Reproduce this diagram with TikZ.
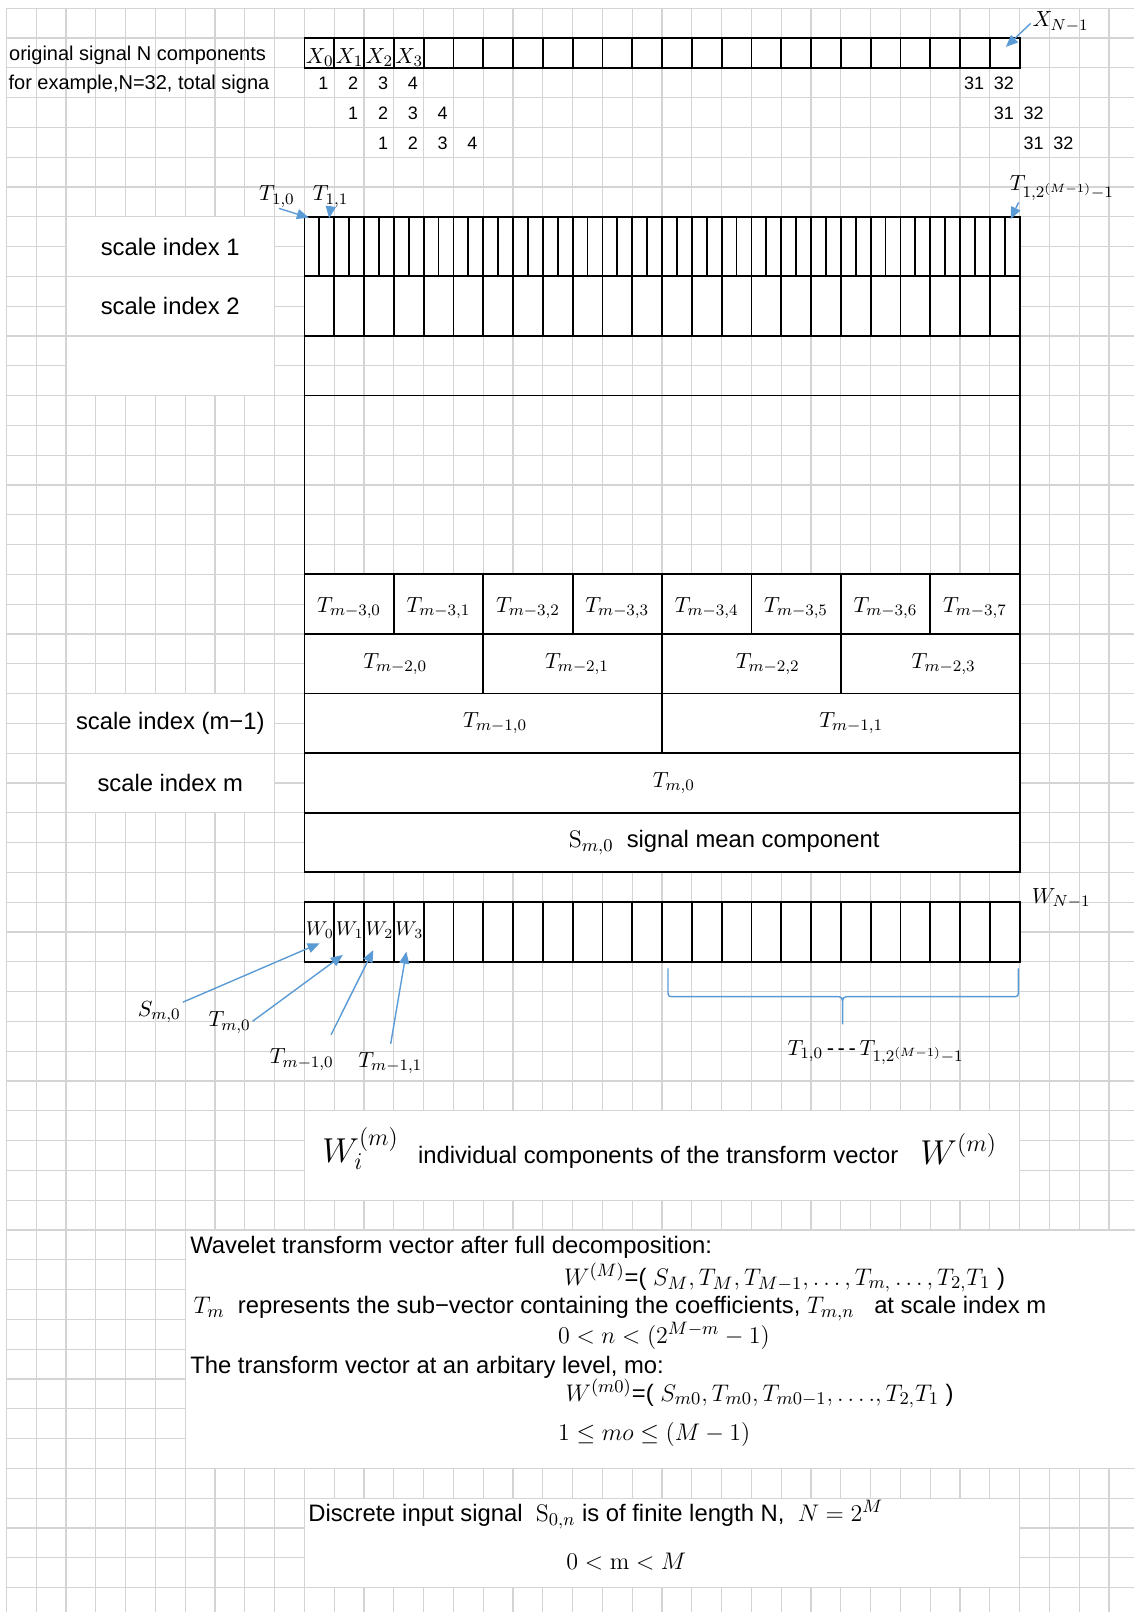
\documentclass[tikz,border=0pt]{standalone}
\usepackage[no-math]{fontspec}
\usepackage{tikz}
\usetikzlibrary{arrows.meta}
\newfontfamily\xlsfont{Liberation Sans}
\definecolor{gridgray}{RGB}{212,212,212}
\definecolor{callblue}{RGB}{91,155,213}
\DeclareMathSizes{10}{10}{7.5}{5.5}
\DeclareMathSizes{11}{11}{8.5}{6.5}
\DeclareMathSizes{11.9}{11.9}{9}{7}
\DeclareMathSizes{18}{18}{13}{10}
\def\FxL{10}
\def\FxR{34}
\def\FxE{37.84}
\def\FyE{53.82}
\tikzset{
  gridln/.style={draw=gridgray, line width=0.6pt},
  merged/.style={fill=white, draw=gridgray, line width=0.6pt},
  cellbox/.style={draw=black, line width=0.9pt},
  toplbl/.style={anchor=base west, inner sep=0pt, font=\xlsfont\fontsize{10}{12}\selectfont},
  numlbl/.style={anchor=base east, inner sep=0pt, font=\xlsfont\fontsize{9}{11}\selectfont},
  rowlbl/.style={inner sep=0pt, font=\xlsfont\fontsize{11.9}{14}\selectfont},
  note/.style={anchor=base west, inner sep=0pt, font=\xlsfont\fontsize{11.9}{14}\selectfont},
  idx/.style={inner sep=0pt, font=\fontsize{11}{13}\selectfont},
  wcell/.style={anchor=base west, inner sep=0pt, font=\fontsize{10}{12}\selectfont},
  bigw/.style={anchor=base west, inner sep=0pt, font=\fontsize{18}{21}\selectfont},
  callout/.style={draw=callblue, line width=0.7pt, shorten <=1pt, -{Triangle[length=6pt,width=5pt]}},
  brace/.style={draw=callblue, line width=0.7pt},
}
\begin{document}
\begin{tikzpicture}[x=14.9pt,y=-14.9pt]
  \useasboundingbox (-0.215,-0.275) rectangle (\FxE,\FyE);

  % sheet grid
  \foreach \c in {0,...,37} \draw[gridln] (\c,0) -- (\c,\FyE);
  \foreach \r in {0,...,53} \draw[gridln] (0,\r) -- (\FxE,\r);

  % merged cells
  \draw[merged] (2,7) rectangle (9,9);
  \draw[merged] (2,9) rectangle (9,11);
  \draw[merged] (2,11) rectangle (9,13);
  \draw[merged] (2,23) rectangle (9,25);
  \draw[merged] (2,25) rectangle (9,27);
  \draw[merged] (\FxL,37) rectangle (\FxR,40);
  \draw[merged] (6,41) rectangle (38.5,49);
  \draw[merged] (\FxL,50) rectangle (\FxR,53);

  % input signal row
  \draw[cellbox, fill=white] (\FxL,1) rectangle (\FxR,2);
  \foreach \c in {11,...,33} \draw[cellbox] (\c,1) -- (\c,2);
  \node[toplbl] (origlbl) at (0.08,1.74) {original signal N components};
  \node[toplbl] (exlbl) at (0.06,2.74) {for example,N=32, total signa};
  \foreach \k in {0,...,3}
    \node[idx, anchor=base west] (x\k) at ({10.04+\k},1.84) {$X_{\k}$};

  % sample counts
  \foreach \n in {1,...,4} {
    \node[numlbl] (na\n) at ({9.82+\n},2.74) {\n};
    \node[numlbl] (nb\n) at ({10.82+\n},3.75) {\n};
    \node[numlbl] (nc\n) at ({11.82+\n},4.75) {\n};
  }
  \node[numlbl] (na31) at (32.82,2.74) {31};
  \node[numlbl] (na32) at (33.82,2.74) {32};
  \node[numlbl] (nb31) at (33.82,3.75) {31};
  \node[numlbl] (nb32) at (34.82,3.75) {32};
  \node[numlbl] (nc31) at (34.82,4.75) {31};
  \node[numlbl] (nc32) at (35.82,4.75) {32};

  % scale index 1 and 2
  \draw[cellbox, fill=white] (\FxL,7) rectangle (\FxR,9);
  \foreach \c in {10.5,11,...,33.5} \draw[cellbox] (\c,7) -- (\c,9);
  \draw[cellbox, fill=white] (\FxL,9) rectangle (\FxR,11);
  \foreach \c in {11,...,33} \draw[cellbox] (\c,9) -- (\c,11);
  \draw[cellbox] (\FxL,11) rectangle (\FxR,13);
  \draw[cellbox] (\FxL,13) rectangle (\FxR,19);
  \node[rowlbl] (sc1lbl) at (5.5,8) {scale index 1};
  \node[rowlbl] (sc2lbl) at (5.5,10) {scale index 2};

  % coarse scales
  \draw[cellbox, fill=white] (\FxL,19) rectangle (\FxR,29);
  \foreach \r in {21,23,25,27} \draw[cellbox] (\FxL,\r) -- (\FxR,\r);
  \foreach \c in {13,16,...,31} \draw[cellbox] (\c,19) -- (\c,21);
  \foreach \c in {16,22,28} \draw[cellbox] (\c,21) -- (\c,23);
  \draw[cellbox] (22,23) -- (22,25);
  \foreach \k in {0,...,7}
    \node[idx] (tc\k) at ({11.5+3*\k},20.12) {$T_{m-3,\k}$};
  \node[idx] (tb0) at (13.05,22) {$T_{m-2,0}$};
  \node[idx] (tb1) at (19.15,22) {$T_{m-2,1}$};
  \node[idx] (tb2) at (25.55,22) {$T_{m-2,2}$};
  \node[idx] (tb3) at (31.45,22) {$T_{m-2,3}$};
  \node[idx] (ta0) at (16.4,24) {$T_{m-1,0}$};
  \node[idx] (ta1) at (28.35,24) {$T_{m-1,1}$};
  \node[idx] (tm0) at (22.4,26) {$T_{m,0}$};
  \node[rowlbl, anchor=west] (smean) at (18.86,28) {$\mathrm{S}_{m,0}$\ \ signal mean component};
  \node[rowlbl] (scm1lbl) at (5.5,24) {scale index (m−1)};
  \node[rowlbl] (scmlbl) at (5.5,26) {scale index m};

  % transform vector row
  \draw[cellbox, fill=white] (\FxL,30) rectangle (\FxR,32);
  \foreach \c in {11,...,33} \draw[cellbox] (\c,30) -- (\c,32);
  \foreach \k in {0,...,3}
    \node[wcell] (w\k) at ({10.04+\k},31.13) {$W_{\k}$};

  % callouts
  \coordinate (xntip) at (33.54,1.3);
  \coordinate (t10tip) at (10.15,7.03);
  \coordinate (t11tip) at (10.83,7.05);
  \coordinate (t1ntip) at (33.7,7.08);
  \coordinate (w0tip) at (10.51,31.38);
  \coordinate (w1tip) at (11.29,31.77);
  \coordinate (w2tip) at (12.31,31.61);
  \coordinate (w3tip) at (13.42,31.66);
  \node[idx, anchor=base west] (xnlbl) at (34.42,0.63) {$X_{N-1}$};
  \node[idx, anchor=base west] (t10lbl) at (8.47,6.47) {$T_{1,0}$};
  \node[idx, anchor=base west] (t11lbl) at (10.27,6.47) {$T_{1,1}$};
  \node[idx, anchor=base west] (t1nlbl) at (33.66,6.13) {$T_{1,2^{(M-1)}-1}$};
  \node[idx, anchor=base west] (wnlbl) at (34.4,30.04) {$W_{N-1}$};
  \node[idx, anchor=base west] (smlbl) at (4.4,33.84) {$S_{m,0}$};
  \node[idx, anchor=base west] (tmlbl) at (6.77,34.18) {$T_{m,0}$};
  \node[idx, anchor=base west] (tm1albl) at (8.83,35.43) {$T_{m-1,0}$};
  \node[idx, anchor=base west] (tm1blbl) at (11.8,35.54) {$T_{m-1,1}$};
  \draw[callout] (xnlbl.west) -- (xntip);
  \draw[callout] (t10lbl.south) -- (t10tip);
  \draw[callout] (t11lbl.south) -- (t11tip);
  \draw[callout] ([xshift=5pt]t1nlbl.south west) -- (t1ntip);
  \draw[callout] (smlbl) -- (w0tip);
  \draw[callout] (tmlbl.east) -- (w1tip);
  \draw[callout] ([shift={(-2pt,6pt)}]tm1albl.north east) -- (w2tip);
  \draw[callout] ([yshift=3pt]tm1blbl.north) -- (w3tip);

  % brace over the scale-1 part
  \draw[brace] (22.2,32.22) -- (22.2,32.95) .. controls (22.2,33.17) .. (22.42,33.17)
    -- (27.8,33.17) .. controls (28.06,33.17) .. (28.06,33.5) -- (28.06,34.1)
    -- (28.06,33.5) .. controls (28.06,33.17) .. (28.32,33.17)
    -- (33.74,33.17) .. controls (33.96,33.17) .. (33.96,32.95) -- (33.96,32.22);
  \node[idx, anchor=base west] (brlbl) at (26.2,35.13) {$T_{1,0}$\,{\xlsfont -\,-\,-}\,$T_{1,2^{(M-1)}-1}$};

  % component caption
  \node[bigw] (wibig) at (10.59,38.75) {$W_i^{(m)}$};
  \node[note] (witxt) at (13.8,38.78) {individual components of the transform vector};
  \node[bigw] (wmbig) at (30.66,38.8) {$W^{(m)}$};

  % notes
  \node[note] (wt1) at (6.16,41.8) {Wavelet transform vector after full decomposition:};
  \node[note] (wt2) at (18.7,42.85) {$W^{(M)}$=( $S_M,T_M,T_{M-1},\dots,T_{m,}\dots,T_{2,}T_1$ )};
  \node[note] (wt3) at (6.27,43.8) {$T_m$\ \ represents the sub−vector containing the coefficients, $T_{m,n}$\ \ \ at scale index m};
  \node[note] (wt4) at (18.5,44.8) {$0 < n < (2^{M-m} - 1)$};
  \node[note] (wt5) at (6.16,45.8) {The transform vector at an arbitary level, mo:};
  \node[note] (wt6) at (18.75,46.75) {$W^{(m0)}$=( $S_{m0},T_{m0},T_{m0-1},\dots.,T_{2,}T_1$ )};
  \node[note] (wt7) at (18.5,48.05) {$1 \leq mo \leq (M-1)$};

  \node[note] (ds1) at (10.12,50.78) {Discrete input signal\ \ $\mathrm{S}_{0,n}$ is of finite length N,\ \ $N = 2^M$};
  \node[note] (ds2) at (18.78,52.4) {$0 < \mathrm{m} < M$};
\end{tikzpicture}
\end{document}
